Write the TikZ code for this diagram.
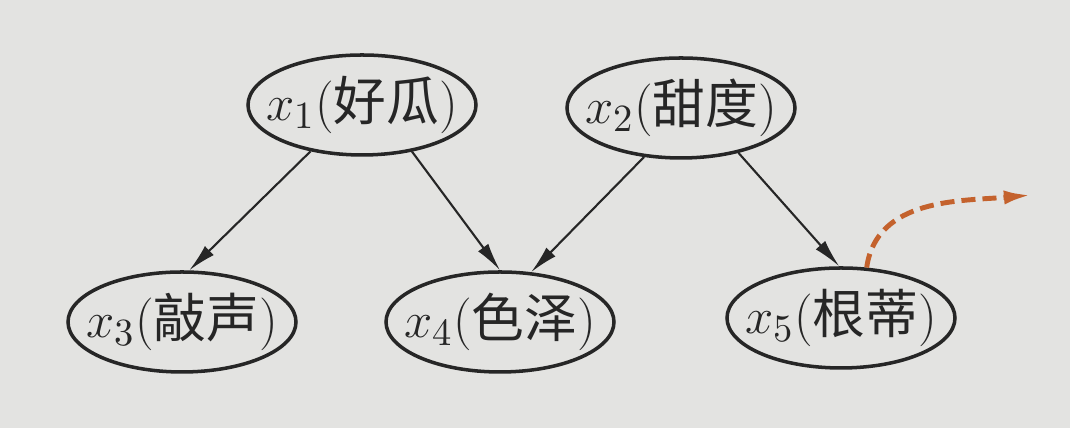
\documentclass[tikz,border=0pt]{standalone}
\usepackage{fontspec}
\newfontfamily\cjk{Noto Sans CJK SC}
\usetikzlibrary{shapes.geometric,arrows.meta}
\definecolor{paper}{HTML}{E3E3E1}
\definecolor{ink}{HTML}{262626}
\definecolor{rust}{HTML}{C4622D}
\newcommand\varlbl[2]{\makebox[0pt]{$x_{#1}$({\cjk #2})}}
\tikzset{
	var/.style={ellipse, draw=ink, line width=1pt, minimum width=2.28cm, minimum height=1.0cm, inner sep=0pt, text=ink, font=\fontsize{15}{18}\selectfont},
	dep/.style={draw=ink, line width=0.6pt, -{Latex[length=8pt,width=3.6pt]}},
	hint/.style={draw=rust, line width=1.4pt, dash pattern=on 4pt off 2pt, -{Latex[length=8pt,width=4pt]}}
}

\begin{document}
\begin{tikzpicture}
			%%%%% START %%%%%
			
			\fill[paper] (0, 0) rectangle (10.70, 4.28);
			\useasboundingbox (0, 0) rectangle (10.70, 4.28);
			
			\node[var] (x1) at (3.62, 3.23) {\varlbl{1}{好瓜}};
			\node[var] (x2) at (6.81, 3.20) {\varlbl{2}{甜度}};
			
			\node[var] (x3) at (1.82, 1.06) {\varlbl{3}{敲声}};
			\node[var] (x4) at (5.00, 1.06) {\varlbl{4}{色泽}};
			\node[var] (x5) at (8.41, 1.10) {\varlbl{5}{根蒂}};
			
			\draw[dep] (x1.222) -- (x3.82);
			\draw[dep] (x1.317) -- (x4.north);
			\draw[dep] (x2.233) -- (x4.58);
			\draw[dep] (x2.322) -- (x5.92);
			
			\coordinate (tip) at (10.32, 2.33);
			\draw[hint] (x5.63) to[out=82, in=185] (tip);
			
			%%%%% END %%%%%
\end{tikzpicture}
\end{document}
